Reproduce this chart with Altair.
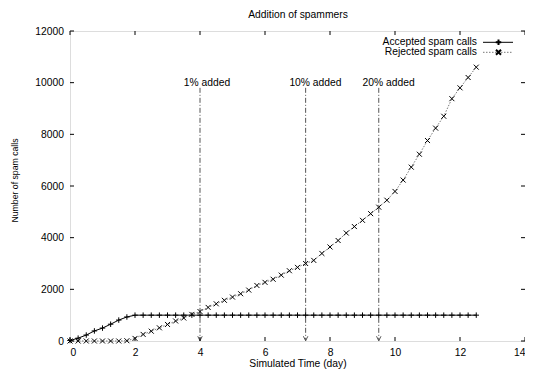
import altair as alt
import pandas as pd

days = [0, 0.25, 0.5, 0.75, 1, 1.25, 1.5, 1.75, 2, 2.25, 2.5, 2.75, 3, 3.25, 3.5, 3.75,
        4, 4.25, 4.5, 4.75, 5, 5.25, 5.5, 5.75, 6, 6.25, 6.5, 6.75, 7, 7.25, 7.5, 7.75,
        8, 8.25, 8.5, 8.75, 9, 9.25, 9.5, 9.75, 10, 10.25, 10.5, 10.75, 11, 11.25, 11.5,
        11.75, 12, 12.25, 12.5]
accepted = [20, 110, 230, 390, 500, 650, 810, 930, 1000, 1000, 1000, 1000, 1000, 1000, 1000, 1000,
            1000, 1000, 1000, 1000, 1000, 1000, 1000, 1000, 1000, 1000, 1000, 1000, 1000, 1000, 1000, 1000,
            1000, 1000, 1000, 1000, 1000, 1000, 1000, 1000, 1000, 1000, 1000, 1000, 1000, 1000, 1000,
            1000, 1000, 1000, 1000]
rejected = [0, 0, 0, 0, 0, 0, 0, 10, 100, 255, 380, 510, 640, 775, 890, 1030,
            1140, 1300, 1440, 1575, 1700, 1830, 1970, 2150, 2270, 2390, 2550, 2720, 2850, 3000, 3120, 3390,
            3640, 3890, 4180, 4430, 4670, 4930, 5180, 5450, 5790, 6230, 6730, 7230, 7760, 8240, 8700,
            9380, 9800, 10200, 10600]

event_days = [4.0, 7.25, 9.5]
event_labels = ["1% added", "10% added", "20% added"]
event_top = [9800, 9800, 9800]
label_y = [10000, 10000, 10000]

x_ticks = [0, 2, 4, 6, 8, 10, 12, 14]
y_ticks = [0, 2000, 4000, 6000, 8000, 10000, 12000]

FONT = "Liberation Sans"
FS = 10.3
W, H = 455, 310

PLUS = "M-1,0L1,0M0,-1L0,1"
CROSS = "M-1,-1L1,1M-1,1L1,-1"
VHEAD = "M-1,-1L0,1L1,-1"

df = pd.DataFrame({"day": days, "accepted": accepted, "rejected": rejected})
ev = pd.DataFrame({"day": event_days, "label": event_labels, "top": event_top,
                   "bottom": [0, 0, 0], "ly": label_y,
                   "lx": [d - 0.5 for d in event_days]})

xs = alt.Scale(domain=[0, 14], nice=False)
ys = alt.Scale(domain=[0, 12000], nice=False)

xaxis = alt.Axis(values=x_ticks, grid=False, domain=False, ticks=False, labelPadding=6.5,
                 labelFontSize=FS, labelFont=FONT, labelColor="black", format="d",
                 title="Simulated Time (day)", titleFont=FONT, titleFontSize=FS,
                 titleFontWeight="normal", titleColor="black", titleY=25.5,
                 titleBaseline="alphabetic")
yaxis = alt.Axis(values=y_ticks, grid=False, domain=False, ticks=False, labelPadding=6.5,
                 labelFontSize=FS, labelFont=FONT, labelColor="black", format="d",
                 title="Number of spam calls", titleFont=FONT, titleFontSize=8.7,
                 titleFontWeight="normal", titleColor="black", titleX=-56, titleY=149,
                 titleAngle=270, titleAlign="center", titleBaseline="middle")

base = alt.Chart(df)

acc_line = base.mark_line(color="black", strokeWidth=1).encode(
    x=alt.X("day:Q", scale=xs, axis=xaxis), y=alt.Y("accepted:Q", scale=ys, axis=yaxis))
acc_pts = base.mark_point(shape=PLUS, size=30, filled=False, color="black", strokeWidth=1, opacity=1).encode(
    x="day:Q", y="accepted:Q")
rej_line = base.mark_line(color="#777777", strokeWidth=1, strokeDash=[1.5, 1.5]).encode(
    x="day:Q", y="rejected:Q")
rej_pts = base.mark_point(shape=CROSS, size=25, filled=False, color="black", strokeWidth=1, opacity=1).encode(
    x="day:Q", y="rejected:Q")

evb = alt.Chart(ev)
arrows = evb.mark_rule(color="#555555", strokeWidth=1, strokeDash=[5, 2, 1, 2]).encode(
    x="day:Q", y="top:Q", y2="bottom:Q")
heads = evb.mark_point(shape=VHEAD, size=20, filled=False, color="#555555", strokeWidth=1,
                       opacity=1, yOffset=-2.5).encode(x="day:Q", y="bottom:Q")
ev_text = evb.mark_text(align="left", baseline="middle", font=FONT, fontSize=FS, color="black").encode(
    x="lx:Q", y="ly:Q", text="label:N")

# inward ticks on all four sides
xt = alt.Chart(pd.DataFrame({"t": x_ticks}))
yt = alt.Chart(pd.DataFrame({"t": y_ticks}))
tick_b = xt.mark_rule(color="black").encode(x="t:Q", y=alt.value(H), y2=alt.value(H - 4))
tick_t = xt.mark_rule(color="black").encode(x="t:Q", y=alt.value(0), y2=alt.value(4))
tick_l = yt.mark_rule(color="black").encode(y="t:Q", x=alt.value(0), x2=alt.value(4))
tick_r = yt.mark_rule(color="black").encode(y="t:Q", x=alt.value(W), x2=alt.value(W - 4))

# title
title = alt.Chart(pd.DataFrame({"t": ["Addition of spammers"]})).mark_text(
    align="center", baseline="middle", font=FONT, fontSize=FS, color="black").encode(
    x=alt.value(228), y=alt.value(-16), text="t:N")

# legend (gnuplot style, top right)
leg1 = pd.DataFrame({"t": ["Accepted spam calls"]})
leg2 = pd.DataFrame({"t": ["Rejected spam calls"]})
LY1, LY2 = 11.3, 21.3
l1_text = alt.Chart(leg1).mark_text(align="right", baseline="middle", font=FONT, fontSize=FS,
                                    color="black").encode(x=alt.value(407), y=alt.value(LY1), text="t:N")
l1_line = alt.Chart(leg1).mark_rule(color="black", strokeWidth=1).encode(
    x=alt.value(413), x2=alt.value(443), y=alt.value(LY1))
l1_pt = alt.Chart(leg1).mark_point(shape=PLUS, size=30, filled=False, color="black", opacity=1).encode(
    x=alt.value(428.5), y=alt.value(LY1))
l2_text = alt.Chart(leg2).mark_text(align="right", baseline="middle", font=FONT, fontSize=FS,
                                    color="black").encode(x=alt.value(407), y=alt.value(LY2), text="t:N")
l2_line = alt.Chart(leg2).mark_rule(color="#777777", strokeWidth=1, strokeDash=[1.5, 1.5]).encode(
    x=alt.value(413), x2=alt.value(443), y=alt.value(LY2))
l2_pt = alt.Chart(leg2).mark_point(shape=CROSS, size=25, filled=False, color="black", opacity=1).encode(
    x=alt.value(428.5), y=alt.value(LY2))

chart = alt.layer(
    acc_line, rej_line, arrows, heads, acc_pts, rej_pts, ev_text,
    tick_b, tick_t, tick_l, tick_r, title,
    l1_text, l1_line, l1_pt, l2_text, l2_line, l2_pt
).properties(
    width=W, height=H,
    autosize=alt.AutoSizeParams(type="none"),
    padding={"left": 62, "top": 23, "right": 0, "bottom": 28},
).configure_view(stroke="black", strokeWidth=1).configure(background="white")

chart.save("out.html", embed_options={"renderer": "svg", "actions": False})
